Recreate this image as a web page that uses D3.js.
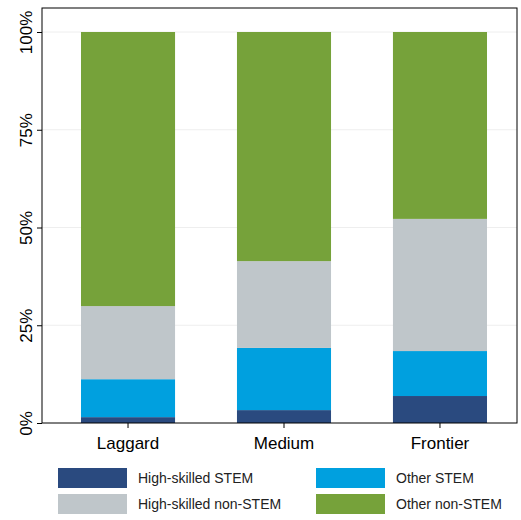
<!DOCTYPE html>
<html><head><meta charset="utf-8">
<script src="https://cdn.jsdelivr.net/npm/d3@7"></script>
<style>body{margin:0;background:#fff}</style>
</head><body>
<svg id="c" width="521" height="520"></svg>
<script>
const categories = ["Laggard","Medium","Frontier"];
const seriesNames = ["High-skilled STEM","Other STEM","High-skilled non-STEM","Other non-STEM"];
const highSTEM = [1.5, 3.3, 6.9];
const otherSTEM = [9.7, 15.9, 11.5];
const highNonSTEM = [18.7, 22.2, 33.8];
const otherNonSTEM = [70.1, 58.6, 47.8];
const colors = ["#2a4a7f","#00a0df","#bfc6ca","#76a23a"];
const yTicks = [0,25,50,75,100];

const svg = d3.select("#c");
const L=42,R=517,T=8,B=423;
const x = d3.scaleBand().domain(categories).range([L,526]).paddingInner(0.397).paddingOuter(0.25);
const y = d3.scaleLinear().domain([0,100]).range([B,32]);
const series=[highSTEM,otherSTEM,highNonSTEM,otherNonSTEM];
const rows = categories.map((c,i)=>{const o={cat:c};seriesNames.forEach((s,j)=>o[s]=series[j][i]);return o;});
const stack = d3.stack().keys(seriesNames)(rows);

svg.selectAll(".g").data(yTicks.slice(1)).enter().append("line")
 .attr("x1",L).attr("x2",R).attr("y1",d=>y(d)).attr("y2",d=>y(d)).attr("stroke","#eeeeee").attr("stroke-width",1);

stack.forEach((s,j)=>{
 svg.append("g").selectAll("rect").data(s).enter().append("rect")
  .attr("x",d=>x(d.data.cat)).attr("width",x.bandwidth())
  .attr("y",d=>y(d[1])).attr("height",d=>y(d[0])-y(d[1])).attr("fill",colors[j]);
});

svg.append("rect").attr("x",L).attr("y",T).attr("width",R-L).attr("height",B-T).attr("fill","none").attr("stroke","#000").attr("stroke-width",1);

const ya = svg.append("g").attr("transform",`translate(${L},0)`)
 .call(d3.axisLeft(y).tickValues(yTicks).tickSize(5).tickFormat(d=>d+"%"));
ya.select(".domain").remove();
ya.selectAll("text").attr("font-family","Arial, Liberation Sans").attr("font-size",17).attr("fill","#000")
 .attr("x",0).attr("y",0).attr("dy",0).attr("text-anchor","middle")
 .attr("transform","translate(-10,0) rotate(-90)");

const xa = svg.append("g").attr("transform",`translate(0,${B})`)
 .call(d3.axisBottom(x).tickSize(5));
xa.select(".domain").remove();
xa.selectAll("text").attr("font-family","Arial, Liberation Sans").attr("font-size",17).attr("fill","#000").attr("dy","1.05em");

const leg=[[58,468],[316,468],[58,494],[316,494]];
[0,1,2,3].forEach((j,k)=>{
 const [lx,ly]=leg[k];
 svg.append("rect").attr("x",lx).attr("y",ly).attr("width",69).attr("height",20).attr("fill",colors[j]);
 svg.append("text").attr("x",lx+80).attr("y",ly+15).text(seriesNames[j])
  .attr("font-family","Arial, Liberation Sans").attr("font-size",14).attr("fill","#222");
});
</script>
</body></html>
